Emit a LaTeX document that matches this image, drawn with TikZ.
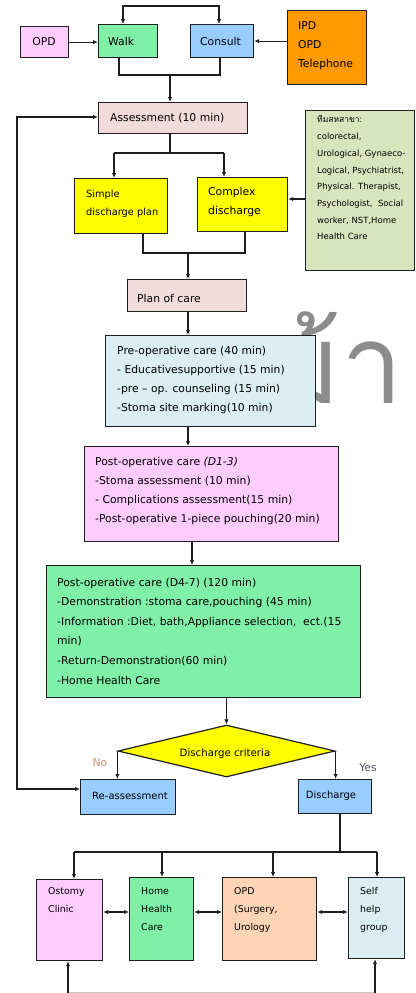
\documentclass[tikz,border=0pt]{standalone}
\usepackage{fontspec}
\setmainfont{DejaVu Sans}
\newfontfamily\thaifont[Script=Thai]{Loma}
\usetikzlibrary{arrows.meta,shapes.geometric}
\definecolor{cpink}{RGB}{255,204,255}
\definecolor{cgreen}{RGB}{128,240,168}
\definecolor{cblue}{RGB}{153,204,255}
\definecolor{corange}{RGB}{255,153,0}
\definecolor{crose}{RGB}{242,220,219}
\definecolor{cyellow}{RGB}{255,255,0}
\definecolor{colive}{RGB}{215,228,189}
\definecolor{cice}{RGB}{218,238,243}
\definecolor{cpeach}{RGB}{251,213,181}
\definecolor{cline}{RGB}{30,30,30}
\definecolor{cno}{RGB}{205,140,110}
\definecolor{cyes}{RGB}{80,80,100}
\begin{document}
\begin{tikzpicture}[x=1pt,y=-1pt,
  box/.style={draw=cline, line width=1.2pt, anchor=north west, inner sep=0pt},
  txt/.style={inner sep=0pt, align=left, anchor=west, text=black, font=\fontsize{10.8}{19}\selectfont},
  stxt/.style={inner sep=0pt, align=left, anchor=west, text=black, font=\fontsize{8.5}{16.7}\selectfont},
  btxt/.style={inner sep=0pt, align=left, anchor=north west, text=black, font=\fontsize{9.4}{18}\selectfont},
  ln/.style={line width=1.1pt, draw=cline},
  arr/.style={ln, -{Latex[length=5pt,width=4.5pt]}},
  dbl/.style={ln, {Latex[length=5pt,width=4.5pt]}-{Latex[length=5pt,width=4.5pt]}}
]
\useasboundingbox (0,0) rectangle (415,993);

% watermark
\node[font=\thaifont\fontsize{110}{110}\selectfont, text=black!45, anchor=base east, inner sep=0pt] (wm) at (403,403) {ม้า};

% boxes
\node[box, fill=cpink, minimum width=48pt, minimum height=31pt] (opd) at (20,26) {};
\node[box, fill=cgreen, minimum width=59pt, minimum height=33pt] (walk) at (98,24) {};
\node[box, fill=cblue, minimum width=63pt, minimum height=33pt] (consult) at (190,24) {};
\node[box, fill=corange, minimum width=79pt, minimum height=74pt] (ipd) at (287,10) {};
\node[box, fill=crose, minimum width=149pt, minimum height=31pt] (assess) at (98,102) {};
\node[box, fill=colive, minimum width=109pt, minimum height=160pt] (side) at (305,110) {};
\node[box, fill=cyellow, minimum width=93pt, minimum height=55pt] (simple) at (74,178) {};
\node[box, fill=cyellow, minimum width=90pt, minimum height=54pt] (complex) at (197,177) {};
\node[box, fill=crose, minimum width=119pt, minimum height=32pt] (plan) at (127,279) {};
\node[box, fill=cice, minimum width=210pt, minimum height=91pt] (pre) at (105,335) {};
\node[box, fill=cpink, minimum width=254pt, minimum height=95pt] (post) at (84,446) {};
\node[box, fill=cgreen, minimum width=314pt, minimum height=132pt] (green) at (46,565) {};
\node[diamond, draw=cline, line width=1.2pt, fill=cyellow, minimum width=217pt, minimum height=52pt, inner sep=0pt, aspect=4] (dc) at (226.5,751) {};
\node[box, fill=cblue, minimum width=95pt, minimum height=35pt] (reass) at (80,779) {};
\node[box, fill=cblue, minimum width=73pt, minimum height=34pt] (disch) at (298,779) {};
\node[box, fill=cpink, minimum width=66pt, minimum height=81pt] (ost) at (36,879) {};
\node[box, fill=cgreen, minimum width=64pt, minimum height=83pt] (home) at (129,877) {};
\node[box, fill=cpeach, minimum width=94pt, minimum height=83pt] (opdb) at (222,877) {};
\node[box, fill=cice, minimum width=56pt, minimum height=81pt] (self) at (348,877) {};

% texts
\node[txt, anchor=center] (opd-t) at (44,42) {OPD};
\node[txt] (walk-t) at (108,41) {Walk};
\node[txt] (consult-t) at (200,41) {Consult};
\node[txt] (ipd-t) at (298,45.5) {IPD\\OPD\\Telephone};
\node[txt] (assess-t) at (110,118) {Assessment (10 min)};
\node[stxt] (side-t) at (317,181.5) {\smash{\thaifont ทีมสหสาขา:}\\colorectal,\\Urological, Gynaeco-\\Logical, Psychiatrist,\\Physical. Therapist,\\Psychologist,~ Social\\worker, NST,Home\\Health Care};
\node[txt, font=\fontsize{9.8}{18}\selectfont] (simple-t) at (86,204) {Simple\\discharge plan};
\node[txt, font=\fontsize{10.8}{18.5}\selectfont] (complex-t) at (208,202) {Complex\\discharge};
\node[txt] (plan-t) at (137,298) {Plan of care};
\node[txt] (pre-t) at (117,380.5) {Pre-operative care (40 min)\\- Educativesupportive (15 min)\\-pre -- op. counseling (15 min)\\-Stoma site marking(10 min)};
\node[txt] (post-t) at (95,491.5) {Post-operative care \textit{(D1-3)}\\-Stoma assessment (10 min)\\- Complications assessment(15 min)\\-Post-operative 1-piece pouching(20 min)};
\node[txt, font=\fontsize{10.8}{19.6}\selectfont] (green-t) at (57,631) {Post-operative care (D4-7) (120 min)\\-Demonstration :stoma care,pouching (45 min)\\-Information :Diet, bath,Appliance selection,~ ect.(15\\min)\\-Return-Demonstration(60 min)\\-Home Health Care};
\node[txt, anchor=center, font=\fontsize{10.2}{12}\selectfont] (dc-t) at (225,754) {Discharge criteria};
\node[txt, anchor=center, font=\fontsize{10}{12}\selectfont] (reass-t) at (130,796) {Re-assessment};
\node[txt, anchor=center, font=\fontsize{10}{12}\selectfont] (disch-t) at (331,796) {Discharge};
\node[txt, anchor=center, text=cno] (no) at (100,763) {No};
\node[txt, anchor=center, text=cyes] (yes) at (368,768) {Yes};
\node[btxt] (ost-t) at (48,887) {Ostomy\\Clinic};
\node[btxt] (home-t) at (141,887) {Home\\Health\\Care};
\node[btxt] (opdb-t) at (234,887) {OPD\\(Surgery,\\Urology};
\node[btxt] (self-t) at (360,887) {Self\\help\\group};

% connectors
\coordinate (tl) at (123,6); \coordinate (tr) at (219,6);
\draw[dbl] (walk.north -| tl) -- (tl) -- (tr) -- (consult.north -| tr);
\draw[arr] (opd.east) -- (opd.east -| walk.west);
\draw[arr] (ipd.west |- consult.east) -- (consult.east);
\coordinate (mL) at (119,75); \coordinate (mR) at (220,75); \coordinate (mC) at (170,75);
\draw[ln] (walk.south -| mL) -- (mL) -- (mR) -- (consult.south -| mR);
\draw[arr] (mC) -- (assess.north -| mC);
\coordinate (sC) at (170,153); \coordinate (sL) at (114,153); \coordinate (sR) at (224,153);
\draw[ln] (assess.south -| sC) -- (sC);
\draw[ln] (sL) -- (sR);
\draw[arr] (sL) -- (simple.north -| sL);
\draw[arr] (sR) -- (complex.north -| sR);
\coordinate (sc) at (0,199);
\draw[arr] (side.west |- sc) -- (complex.east |- sc);
\coordinate (jL) at (143,253); \coordinate (jR) at (245,253); \coordinate (jC) at (188,253);
\draw[ln] (simple.south -| jL) -- (jL) -- (jR) -- (complex.south -| jR);
\draw[arr] (jC) -- (plan.north -| jC);
\coordinate (a1) at (188,0); \coordinate (a2) at (192,0);
\draw[arr] (plan.south -| a1) -- (pre.north -| a1);
\draw[arr] (pre.south -| a1) -- (post.north -| a1);
\draw[arr] (post.south -| a2) -- (green.north -| a2);
\draw[arr] (green.south -| dc.north) -- (dc.north);
\draw[arr] (dc.west) -- (dc.west |- reass.north);
\draw[arr] (dc.east) -- (dc.east |- disch.north);
\coordinate (lt) at (17,117); \coordinate (lb) at (17,789);
\draw[dbl] (reass.west |- lb) -- (lb) -- (lt) -- (assess.west |- lt);
\coordinate (bC) at (340,852); \coordinate (bL) at (74,852); \coordinate (bR) at (377,852);
\coordinate (bH) at (162,852); \coordinate (bO) at (273,852);
\draw[ln] (disch.south -| bC) -- (bC);
\draw[ln] (bL) -- (bR);
\draw[arr] (bL) -- (ost.north -| bL);
\draw[arr] (bH) -- (home.north -| bH);
\draw[arr] (bO) -- (opdb.north -| bO);
\draw[arr] (bR) -- (self.north -| bR);
\coordinate (dy) at (0,912);
\draw[dbl] (ost.east |- dy) -- (home.west |- dy);
\draw[dbl] (home.east |- dy) -- (opdb.west |- dy);
\draw[dbl] (opdb.east |- dy) -- (self.west |- dy);
\coordinate (eL) at (68,992.5); \coordinate (eR) at (375,992.5);
\draw[line width=1pt, draw=black!22] (eL) -- (eR);
\draw[arr] (eL) -- (ost.south -| eL);
\draw[arr] (eR) -- (self.south -| eR);
\end{tikzpicture}
\end{document}
